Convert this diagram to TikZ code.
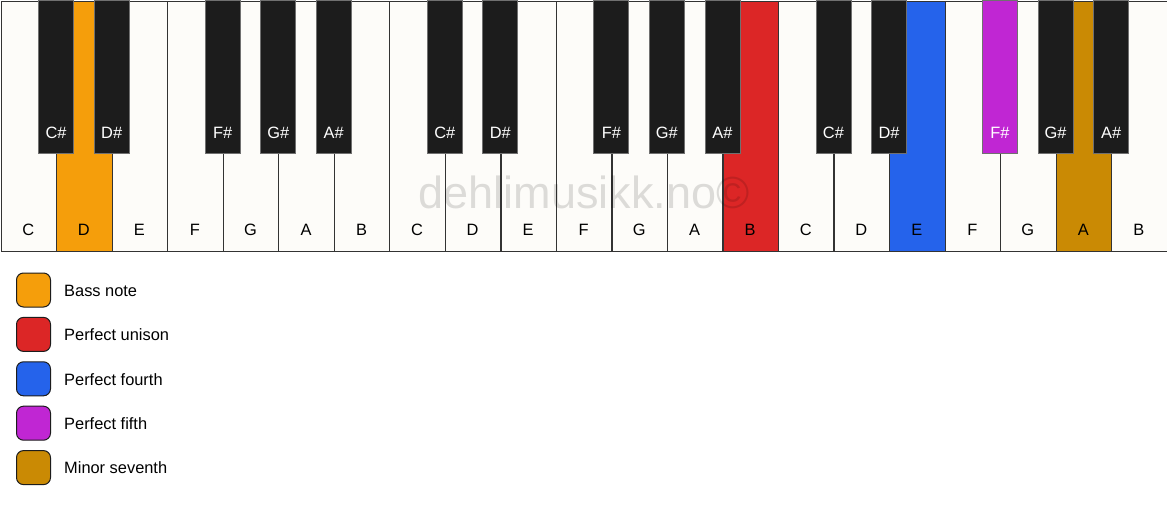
\documentclass[tikz,border=0pt]{standalone}
\usepackage{fontspec}
\setmainfont{Liberation Sans}
\definecolor{bass}{HTML}{F59E0B}
\definecolor{unison}{HTML}{DC2626}
\definecolor{fourth}{HTML}{2563EB}
\definecolor{fifth}{HTML}{C026D3}
\definecolor{seventh}{HTML}{CA8A04}
\definecolor{ivory}{HTML}{FDFCF9}
\definecolor{ebony}{HTML}{1C1C1C}
\definecolor{keyline}{HTML}{333333}
\tikzset{
  whitekey/.style={draw=keyline, line width=1.2pt, fill=ivory, rectangle, anchor=north west, inner sep=0pt, minimum width=55.524pt, minimum height=250pt},
  blackkey/.style={draw=keyline!70, line width=0.8pt, fill=ebony, rectangle, anchor=north, inner sep=0pt, minimum width=35pt, minimum height=153pt},
  wlabel/.style={font=\fontsize{16.4}{18}\selectfont, text=black},
  blabel/.style={font=\fontsize{16.4}{18}\selectfont, text=white},
  swatch/.style={draw=ebony, line width=1pt, rounded corners=7pt, rectangle, inner sep=0pt, minimum width=34pt, minimum height=34pt, anchor=west},
  legtext/.style={font=\fontsize{16.4}{18}\selectfont, anchor=west, inner sep=0pt},
  watermark/.style={font=\fontsize{45}{50}\selectfont, text=black, text opacity=0.13}
}
\begin{document}
\begin{tikzpicture}[x=1pt,y=-1pt]
\useasboundingbox (0,0) rectangle (1167,506);
\fill[white] (0,0) rectangle (1167,506);
% white keys
\foreach \n/\c [count=\i from 0] in {C/ivory,D/bass,E/ivory,F/ivory,G/ivory,A/ivory,B/ivory,
  C/ivory,D/ivory,E/ivory,F/ivory,G/ivory,A/ivory,B/unison,
  C/ivory,D/ivory,E/fourth,F/ivory,G/ivory,A/seventh,B/ivory}{
  \node[whitekey, fill=\c] (w\i) at ({\i*55.524+0.6},0.6) {};
  \node[wlabel] (wl\i) at ({\i*55.524+27.76+0.6},230) {\n};
}
% black keys
\foreach \b/\n/\c in {1/C\#/ebony,2/D\#/ebony,4/F\#/ebony,5/G\#/ebony,6/A\#/ebony,
  8/C\#/ebony,9/D\#/ebony,11/F\#/ebony,12/G\#/ebony,13/A\#/ebony,
  15/C\#/ebony,16/D\#/ebony,18/F\#/fifth,19/G\#/ebony,20/A\#/ebony}{
  \node[blackkey, fill=\c] (b\b) at ({\b*55.524+0.6},0) {};
  \node[blabel] (bl\b) at ({\b*55.524+0.6},133) {\n};
}
% watermark
\node[watermark, anchor=base] (wm) at (584,208) {dehlimusikk.no©};
% legend
\foreach \c/\t [count=\k from 0] in {bass/Bass note,unison/Perfect unison,fourth/Perfect fourth,fifth/Perfect fifth,seventh/Minor seventh}{
  \node[swatch, fill=\c] (s\k) at (16,{290+\k*44.4}) {};
  \node[legtext] (t\k) at (64,{290.5+\k*44.4}) {\t};
}
\end{tikzpicture}
\end{document}
